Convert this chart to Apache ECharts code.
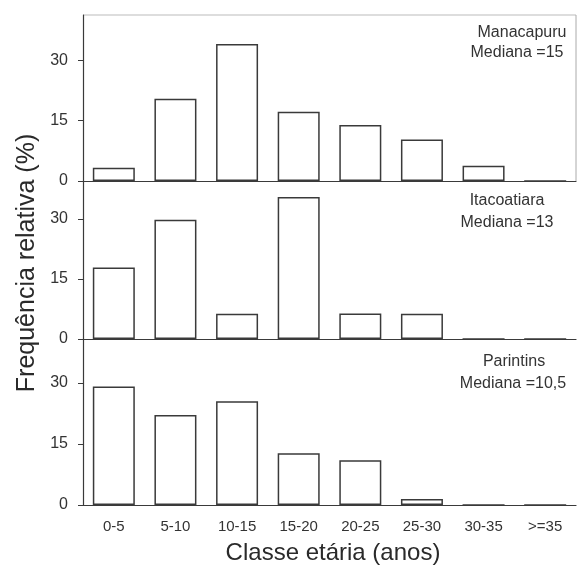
<!DOCTYPE html>
<html>
<head>
<meta charset="utf-8">
<script src="https://cdn.jsdelivr.net/npm/echarts@6/dist/echarts.min.js"></script>
<style>html,body{margin:0;padding:0;background:#fff}#c{width:578px;height:566px}</style>
</head>
<body>
<div id="c"></div>
<script>
const categories = ['0-5','5-10','10-15','15-20','20-25','25-30','30-35','>=35'];
const manacapuru = [3.3, 20.4, 34.0, 17.2, 13.9, 10.3, 3.8, 0];
const itacoatiara = [17.9, 29.8, 6.3, 35.5, 6.4, 6.3, 0, 0];
const parintins = [29.1, 22.1, 25.5, 12.7, 11.0, 1.5, 0, 0];
const yTicks = [0, 15, 30];
const panelNames = ['Manacapuru', 'Itacoatiara', 'Parintins'];
const panelMedians = ['Mediana =15', 'Mediana =13', 'Mediana =10,5'];
const yTitle = 'Frequência relativa (%)';
const xTitle = 'Classe etária (anos)';

const seriesData = [manacapuru, itacoatiara, parintins];
const grids = [
  {left: 83, right: 2, top: 15, height: 166},
  {left: 83, right: 2, top: 181, height: 158},
  {left: 83, right: 2, top: 339, height: 166}
];
const maxes = [41.2, 39.5, 40.8];
const lineColor = '#3a3a3a';
const textColor = '#333';
const font = 'Liberation Sans, Arial, sans-serif';

const xAxes = grids.map((g, i) => ({
  type: 'category', gridIndex: i, data: categories,
  axisLine: {show: true, lineStyle: {color: lineColor, width: 1.2}},
  axisTick: {show: false},
  axisLabel: {show: i === 2, color: textColor, fontSize: 15, fontFamily: font, margin: 14, interval: 0}
}));
const yAxes = grids.map((g, i) => ({
  type: 'value', gridIndex: i, min: 0, max: maxes[i],
  splitLine: {show: false},
  axisLine: {show: true, lineStyle: {color: lineColor, width: 1.2}},
  axisTick: {show: true, length: 5, customValues: yTicks, lineStyle: {color: lineColor}},
  axisLabel: {color: textColor, fontSize: 16, fontFamily: font, margin: 15, customValues: yTicks}
}));
const series = seriesData.map((d, i) => ({
  type: 'bar', xAxisIndex: i, yAxisIndex: i, data: d, barWidth: 42,
  itemStyle: {color: '#fff', borderColor: lineColor, borderWidth: 1.5},
  silent: true
}));

const namePos = [[522, 33], [507, 201], [514, 362]];
const medPos = [[517, 53], [507, 223], [513, 384]];
const graphic = [];
for (let i = 0; i < 3; i++) {
  graphic.push({type: 'text', x: namePos[i][0], y: namePos[i][1],
    style: {text: panelNames[i], fill: textColor, font: '16px ' + font, align: 'center', verticalAlign: 'middle'}});
  graphic.push({type: 'text', x: medPos[i][0], y: medPos[i][1],
    style: {text: panelMedians[i], fill: textColor, font: '16px ' + font, align: 'center', verticalAlign: 'middle'}});
}
graphic.push({type: 'text', x: 27, y: 263, rotation: Math.PI / 2,
  style: {text: yTitle, fill: '#2a2a2a', font: '25px ' + font, align: 'center', verticalAlign: 'middle'}});
graphic.push({type: 'text', x: 333, y: 553,
  style: {text: xTitle, fill: '#2a2a2a', font: '24px ' + font, align: 'center', verticalAlign: 'middle'}});
// top frame line and right frame line of upper panel
graphic.push({type: 'line', shape: {x1: 83, y1: 15, x2: 576, y2: 15}, style: {stroke: '#bbb', lineWidth: 1}});
graphic.push({type: 'line', shape: {x1: 576, y1: 15, x2: 576, y2: 181}, style: {stroke: '#aaa', lineWidth: 1}});

const chart = echarts.init(document.getElementById('c'), null, {renderer: 'canvas'});
chart.setOption({
  animation: false,
  backgroundColor: '#fff',
  grid: grids,
  xAxis: xAxes,
  yAxis: yAxes,
  series: series,
  graphic: graphic
});
</script>
</body>
</html>
